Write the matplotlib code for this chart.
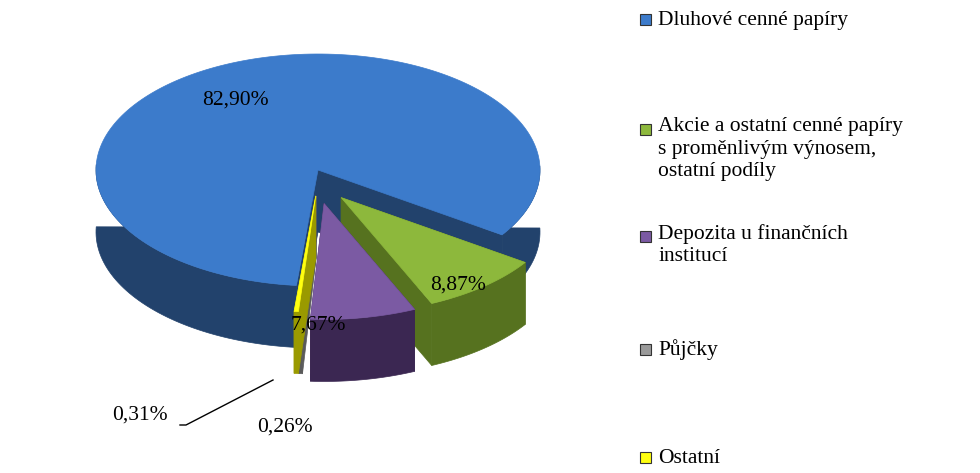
import numpy as np
import matplotlib.pyplot as plt
from matplotlib.patches import Polygon

labels = ["Dluhové cenné papíry",
          "Akcie a ostatní cenné papíry\ns proměnlivým výnosem,\nostatní podíly",
          "Depozita u finančních\ninstitucí", "Půjčky", "Ostatní"]
values = [82.90, 8.87, 7.67, 0.26, 0.31]
value_labels = ["82,90%", "8,87%", "7,67%", "0,26%", "0,31%"]
top_colors = ["#3C7BCB", "#8DB83C", "#7B5AA3", "#9A9A9A", "#FFFF10"]
side_colors = ["#22426C", "#56721F", "#3B2752", "#5A5A5A", "#9A9A00"]
explode = [0, 36, 34, 26, 26]

fig = plt.figure(figsize=(9.8, 4.73), dpi=100)
ax = fig.add_axes([0, 0, 1, 1])
ax.set_xlim(0, 980); ax.set_ylim(473, 0); ax.axis("off")

cx, cy, rx, ry, depth = 318, 170, 222, 116, 62
start = -34.0
spans = np.array(values) / sum(values) * 360
angles = {0: (start, start + spans[0])}
a = start
for i in [1, 2, 3, 4]:
    angles[i] = (a - spans[i], a); a -= spans[i]

def pt(t, ox, oy, dz=0):
    r = np.radians(t)
    return (cx + ox + rx*np.cos(r), cy + oy - ry*np.sin(r) + dz)

for i in [0, 1, 2, 3, 4]:
    t0, t1 = angles[i]
    mid = np.radians((t0 + t1) / 2)
    ox, oy = explode[i]*np.cos(mid), -explode[i]*np.sin(mid)
    ts = np.linspace(t0, t1, 200)
    c = (cx+ox, cy+oy)
    for t in (t0, t1):
        p = pt(t, ox, oy)
        ax.add_patch(Polygon([c, p, (p[0], p[1]+depth), (c[0], c[1]+depth)],
                             closed=True, fc=side_colors[i], ec=side_colors[i], lw=0.5))
    front = ts[np.sin(np.radians(ts)) < 0.05]
    if len(front) > 1:
        top = [pt(t, ox, oy) for t in front]
        bot = [pt(t, ox, oy, depth) for t in front[::-1]]
        ax.add_patch(Polygon(top + bot, closed=True, fc=side_colors[i], ec=side_colors[i], lw=0.5))
    ax.add_patch(Polygon([c] + [pt(t, ox, oy) for t in ts], closed=True,
                         fc=top_colors[i], ec=top_colors[i], lw=0.5))

fs = 15.5
ff = "Liberation Serif"
ax.text(235, 100, value_labels[0], fontsize=fs, family=ff, ha="center", va="center")
ax.text(458, 285, value_labels[1], fontsize=fs, family=ff, ha="center", va="center")
ax.text(318, 325, value_labels[2], fontsize=fs, family=ff, ha="center", va="center")
ax.text(285, 427, value_labels[3], fontsize=fs, family=ff, ha="center", va="center")
ax.text(140, 415, value_labels[4], fontsize=fs, family=ff, ha="center", va="center")
ax.plot([180, 186, 273], [425, 425, 380], color="black", lw=1)

leg_y = [20, 130, 237, 350, 458]
for i, y in enumerate(leg_y):
    ax.add_patch(plt.Rectangle((640, y-6), 11, 11, fc=top_colors[i], ec="#333333", lw=0.8))
    if i in (1, 2):
        ax.text(658, y - 13, labels[i], fontsize=fs, family=ff, ha="left", va="top", linespacing=1.25)
    else:
        ax.text(658, y, labels[i], fontsize=fs, family=ff, ha="left", va="center")
fig.savefig("out.png", dpi=100)
